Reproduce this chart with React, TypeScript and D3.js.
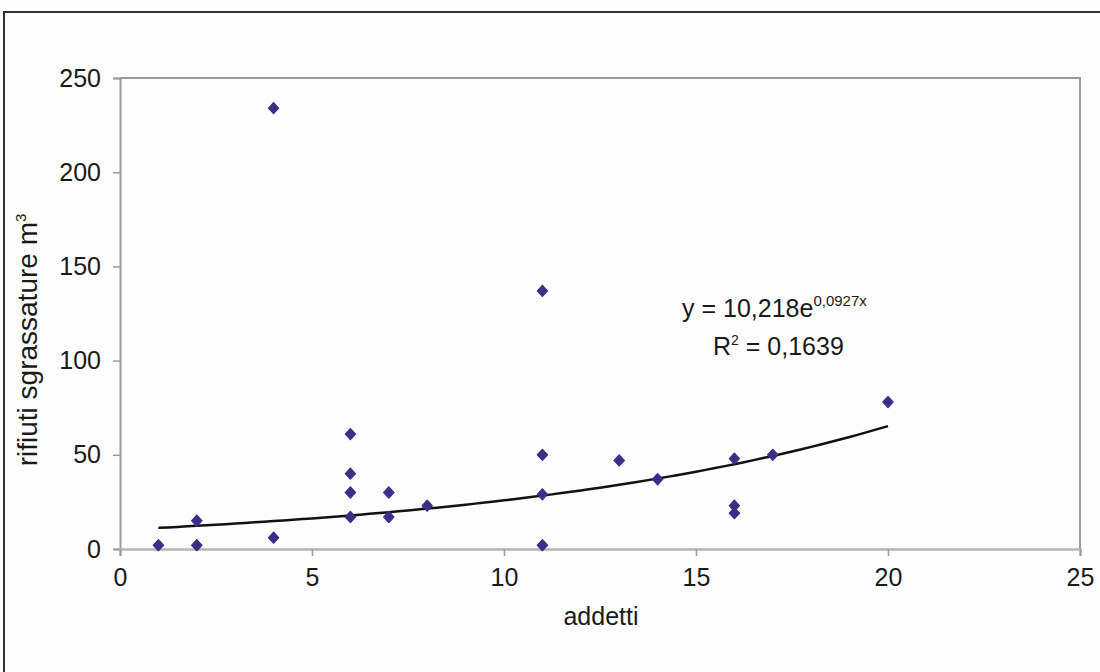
import React, { useEffect, useRef } from 'react'
import * as d3 from 'd3'

// addetti (x) and rifiuti sgrassature m3 (y)
const addetti = [1, 2, 2, 4, 4, 6, 6, 6, 6, 7, 7, 8, 11, 11, 11, 11, 13, 14, 16, 16, 16, 17, 20]
const rifiuti = [2, 2, 15, 234, 6, 61, 40, 30, 17, 30, 17, 23, 137, 50, 29, 2, 47, 37, 48, 23, 19, 50, 78]

const xTicks = [0, 5, 10, 15, 20, 25]
const yTicks = [0, 50, 100, 150, 200, 250]

// exponential trend y = a * e^(b x)
const trendA = 10.218
const trendB = 0.0927
const trendRange = [1, 20]

const W = 1100
const H = 672
const FONT = "'Liberation Sans', Arial, sans-serif"

const App = () => {
  const svgRef = useRef<SVGSVGElement>(null)

  useEffect(() => {
    const svg = d3.select(svgRef.current)
    svg.selectAll('*').remove()

    const plot = { left: 120, right: 1080, top: 78, bottom: 549 }

    const x = d3.scaleLinear().domain([0, 25]).range([plot.left, plot.right])
    const y = d3.scaleLinear().domain([0, 250]).range([plot.bottom, plot.top])

    svg.append('rect').attr('width', W).attr('height', H).attr('fill', '#fdfdfd')

    // outer frame
    svg
      .append('path')
      .attr('d', `M4,${H + 5}V12H${W + 5}`)
      .attr('fill', 'none')
      .attr('stroke', '#333')
      .attr('stroke-width', 2)

    // plot frame (top + right)
    svg
      .append('path')
      .attr('d', `M${plot.left},${plot.top}H${plot.right}V${plot.bottom}`)
      .attr('fill', 'none')
      .attr('stroke', '#9a9a9a')
      .attr('stroke-width', 2)

    // y axis
    const yAxis = d3
      .axisLeft(y)
      .tickValues(yTicks)
      .tickSize(7)
      .tickPadding(12)
    const gy = svg
      .append('g')
      .attr('transform', `translate(${plot.left},0)`)
      .call(yAxis)
    gy.select('.domain').attr('stroke', '#9a9a9a').attr('stroke-width', 2)
    gy.selectAll('.tick line').attr('stroke', '#9a9a9a').attr('stroke-width', 1.5)
    gy.selectAll('.tick text')
      .attr('fill', '#1a1a1a')
      .style('font-family', FONT)
      .style('font-size', '25px')

    // x axis
    const xAxis = d3
      .axisBottom(x)
      .tickValues(xTicks)
      .tickSize(7)
      .tickPadding(12)
    const gx = svg
      .append('g')
      .attr('transform', `translate(0,${plot.bottom})`)
      .call(xAxis)
    gx.select('.domain').attr('stroke', '#b5b5b5').attr('stroke-width', 2.5)
    gx.selectAll('.tick line').attr('stroke', '#9a9a9a').attr('stroke-width', 1.5)
    gx.selectAll('.tick text')
      .attr('fill', '#1a1a1a')
      .style('font-family', FONT)
      .style('font-size', '25px')

    // trend line
    const trendData = d3.range(trendRange[0], trendRange[1] + 0.01, 0.25)
    const line = d3
      .line<number>()
      .x((d) => x(d))
      .y((d) => y(trendA * Math.exp(trendB * d)))
      .curve(d3.curveMonotoneX)
    svg
      .append('path')
      .datum(trendData)
      .attr('d', line)
      .attr('fill', 'none')
      .attr('stroke', '#111')
      .attr('stroke-width', 2.5)

    // points (fat diamonds)
    const pts = addetti.map((a, i) => ({ a, r: rifiuti[i] }))
    svg
      .append('g')
      .selectAll('path')
      .data(pts)
      .enter()
      .append('path')
      .attr('transform', (d) => `translate(${x(d.a)},${y(d.r)}) scale(1.5,0.95)`)
      .attr('d', d3.symbol().type(d3.symbolDiamond).size(42))
      .attr('fill', '#3a2f86')
      .attr('stroke', '#3a2f86')
      .attr('stroke-width', 0.8)
      .attr('stroke-linejoin', 'round')

    // equation
    const eq = svg
      .append('text')
      .attr('x', 682)
      .attr('y', 317)
      .attr('fill', '#1a1a1a')
      .style('font-family', FONT)
      .style('font-size', '25px')
    eq.append('tspan').text('y = 10,218e')
    eq.append('tspan')
      .attr('dy', -11)
      .style('font-size', '15px')
      .text('0,0927x')

    const r2 = svg
      .append('text')
      .attr('x', 713)
      .attr('y', 355)
      .attr('fill', '#1a1a1a')
      .style('font-family', FONT)
      .style('font-size', '25px')
    r2.append('tspan').text('R')
    r2.append('tspan').attr('dy', -10).style('font-size', '14px').text('2')
    r2.append('tspan').attr('dy', 10).text(' = 0,1639')

    // axis titles
    svg
      .append('text')
      .attr('x', 601)
      .attr('y', 625)
      .attr('text-anchor', 'middle')
      .attr('fill', '#1a1a1a')
      .style('font-family', FONT)
      .style('font-size', '25px')
      .text('addetti')

    const yt = svg
      .append('text')
      .attr('transform', 'translate(37,340) rotate(-90)')
      .attr('text-anchor', 'middle')
      .attr('fill', '#1a1a1a')
      .style('font-family', FONT)
      .style('font-size', '28px')
    yt.append('tspan').text('rifiuti sgrassature m')
    yt.append('tspan').attr('dy', -11).style('font-size', '15px').text('3')
  }, [])

  return (
    <svg
      ref={svgRef}
      width={W}
      height={H}
      style={{ position: 'absolute', left: 0, top: 0 }}
    ></svg>
  )
}

export default App
